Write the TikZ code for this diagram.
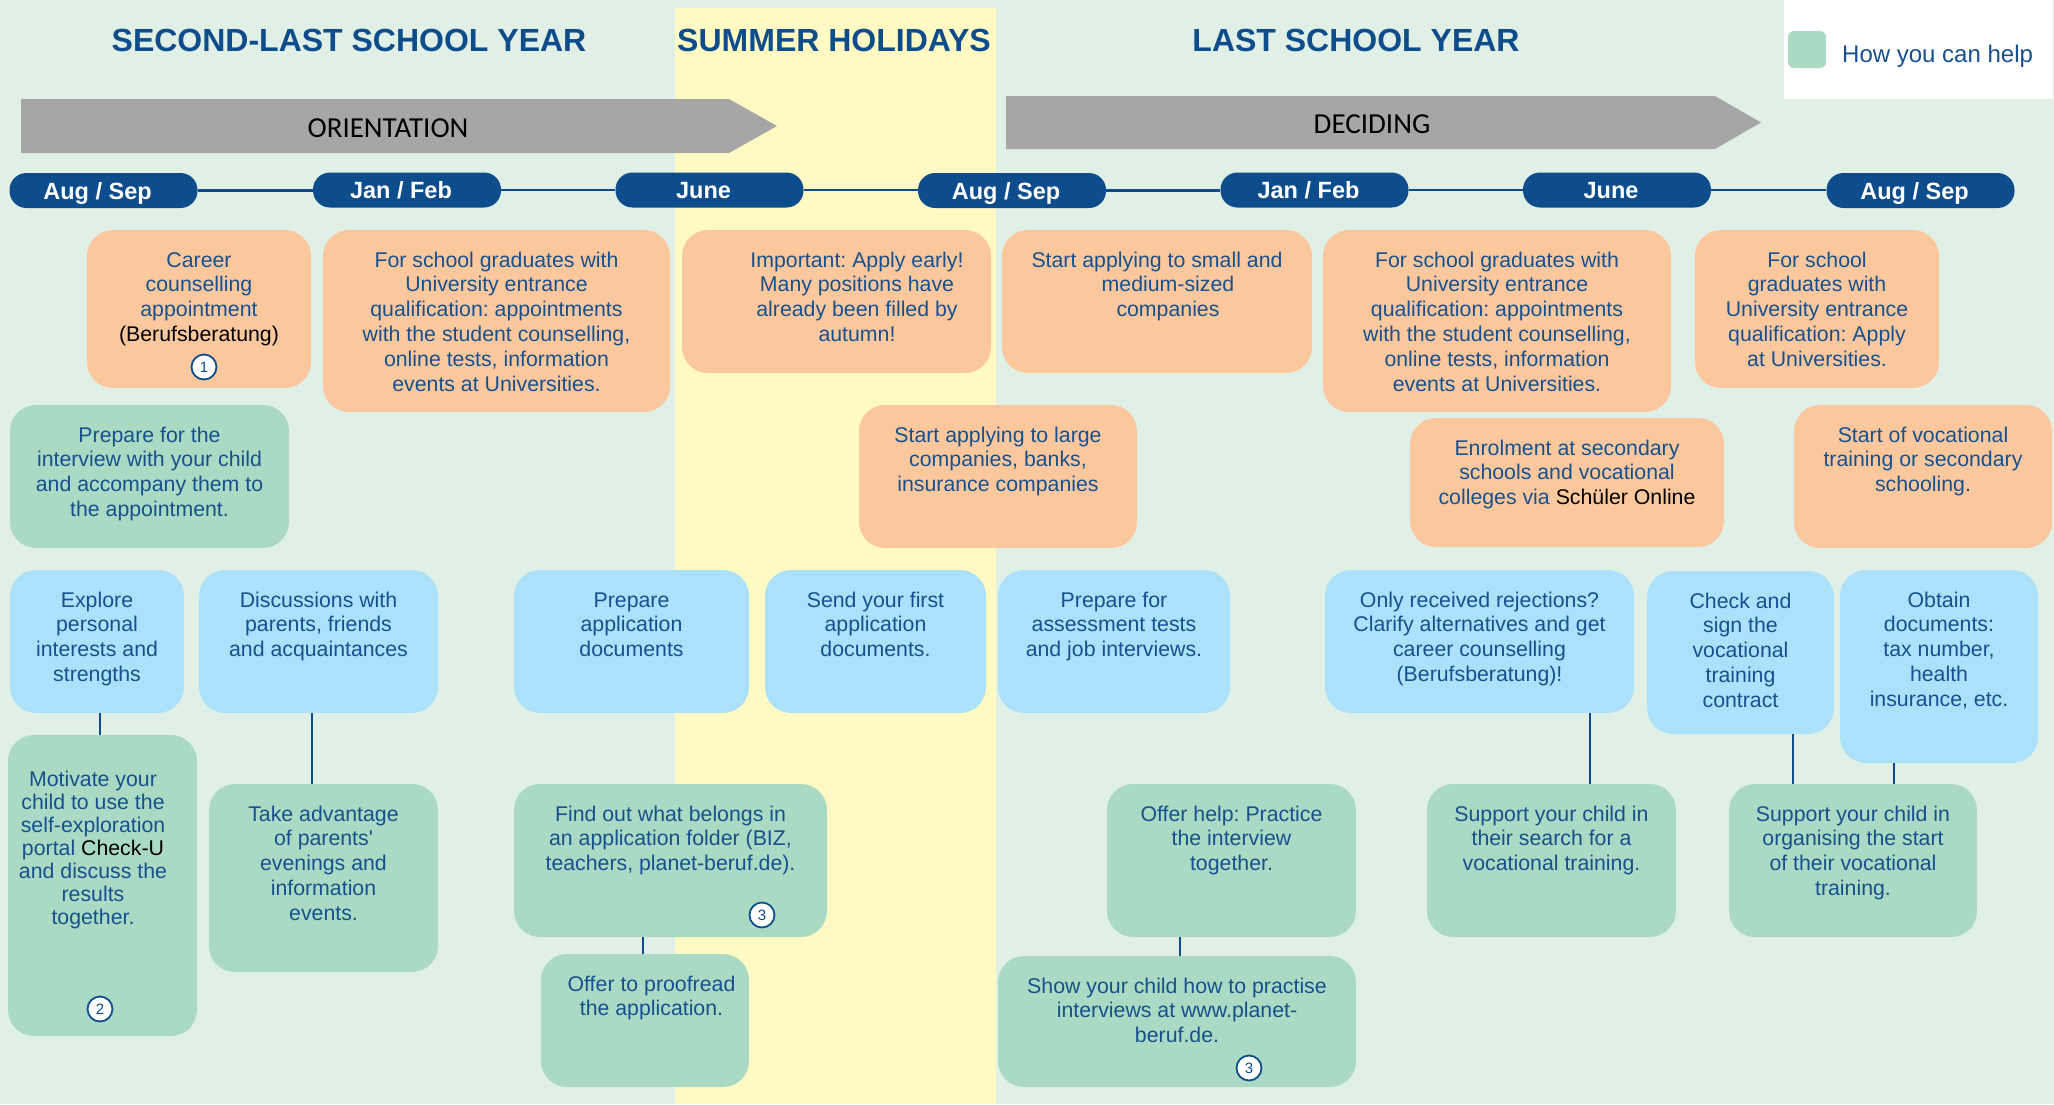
\documentclass[tikz,border=0pt]{standalone}
\usepackage{fontspec}
\setmainfont{Liberation Sans}
\newfontfamily\calibfont{Carlito}
\frenchspacing
\definecolor{bgc}{HTML}{E1F0E6}
\definecolor{yel}{HTML}{FFF9C4}
\definecolor{org}{HTML}{FBC89E}
\definecolor{grn}{HTML}{AADAC3}
\definecolor{blu}{HTML}{ABE1FA}
\definecolor{navy}{HTML}{0D4D8C}
\definecolor{txt}{HTML}{17508E}
\definecolor{arr}{HTML}{A6A6A6}
\newcommand{\bodyfont}{\fontsize{21.3}{24.8}\selectfont}
\newcommand{\tb}[4][37pt]{\begin{minipage}[c][#3][t]{#2}\frenchspacing\centering\rule{0pt}{#1}#4\end{minipage}}
\newcommand{\bk}[1]{{\color{black}#1}}
\tikzset{
 tbox/.style={rounded corners=26pt, inner sep=0pt, outer sep=0pt, text=txt, font=\bodyfont},
 obox/.style={tbox, fill=org},
 gbox/.style={tbox, fill=grn},
 bbox/.style={tbox, fill=blu},
 pill/.style={fill=navy, rounded corners=17pt, minimum width=188pt, minimum height=35pt, inner sep=0pt, text=white, font=\fontsize{23.5}{28}\selectfont\bfseries, text height=17pt, text depth=0pt, execute at begin node=\hspace*{-12pt}},
 ttl/.style={text=navy, font=\fontsize{32}{36}\selectfont\bfseries, inner sep=0pt},
 conn/.style={draw=navy, line width=1.8pt},
 numc/.style={circle, draw=navy, line width=1.8pt, fill=white, minimum size=25pt, inner sep=0pt, text=navy, font=\fontsize{15}{15}\selectfont},
 phase/.style={font=\calibfont\fontsize{29}{33}\selectfont, text=black, inner sep=0pt, anchor=base},
}
\begin{document}
\begin{tikzpicture}[x=1pt,y=-1pt]
\fill[bgc] (0,0) rectangle (2054,1104);
\useasboundingbox (0,0) rectangle (2054,1104);
\fill[yel] (675,8) rectangle (996,1104);
\fill[white] (1784,0) rectangle (2053,99);

% titles
\node[ttl] (t1) at (349,40) {SECOND-LAST SCHOOL YEAR};
\node[ttl] (t2) at (834,40) {SUMMER HOLIDAYS};
\node[ttl] (t3) at (1356,40) {LAST SCHOOL YEAR};

% legend
\node[fill=grn, rounded corners=6pt, minimum width=38pt, minimum height=37pt, inner sep=0pt] (legsw) at (1807,49.5) {};
\node[anchor=base west, inner sep=0pt, text=txt, font=\fontsize{24}{28}\selectfont] (legt) at (1842,62) {How you can help};

% phase arrows
\fill[arr] (21,99) -- (729,99) -- (777,126) -- (729,153) -- (21,153) -- cycle;
\node[phase] (orient) at (388,137) {ORIENTATION};
\fill[arr] (1006,96) -- (1715,96) -- (1761,122.5) -- (1715,149) -- (1006,149) -- cycle;
\node[phase] (decid) at (1372,133) {DECIDING};

% timeline
\node[pill] (p1) at (103.5,190.5) {Aug / Sep};
\node[pill] (p2) at (407,190) {Jan / Feb};
\node[pill] (p3) at (709.5,190) {June};
\node[pill] (p4) at (1012,190.5) {Aug / Sep};
\node[pill] (p5) at (1314.5,190) {Jan / Feb};
\node[pill] (p6) at (1617,190) {June};
\node[pill] (p7) at (1920.5,190.5) {Aug / Sep};
\foreach \a/\b in {p1/p2,p2/p3,p3/p4,p4/p5,p5/p6,p6/p7}
  \draw[navy, line width=2.5pt] (\a.east) -- (\b.west |- \a.east);

% orange row
\node[obox] (career) at (199,309) {\tb{224pt}{158pt}{Career\\counselling\\appointment\\\bk{(Berufsberatung)}}};
\node[obox] (sg1) at (496.5,321) {\tb{347pt}{182pt}{For school graduates with\\University entrance\\qualification: appointments\\with the student counselling,\\online tests, information\\events at Universities.}};
\node[obox] (imp) at (836.5,301.5) {\tb{309pt}{143pt}{\leftskip=41pt plus 1fil\relax Important: Apply early!\\Many positions have\\already been filled by\\autumn!}};
\node[obox] (small) at (1157,301.5) {\tb{310pt}{143pt}{Start applying to small and\\\hspace*{22pt}medium-sized\\\hspace*{22pt}companies}};
\node[obox] (sg2) at (1497,321) {\tb{348pt}{182pt}{For school graduates with\\University entrance\\qualification: appointments\\with the student counselling,\\online tests, information\\events at Universities.}};
\node[obox] (sg3) at (1817,309) {\tb{244pt}{158pt}{For school\\graduates with\\University entrance\\qualification: Apply\\at Universities.}};

% second row
\node[gbox] (prepint) at (149.5,476.5) {\tb{279pt}{143pt}{Prepare for the\\interview with your child\\and accompany them to\\the appointment.}};
\node[obox] (large) at (998,476.5) {\tb{278pt}{143pt}{Start applying to large\\companies, banks,\\insurance companies}};
\node[obox] (enrol) at (1567,482.5) {\tb{314pt}{129pt}{Enrolment at secondary\\schools and vocational\\colleges via \bk{Schüler Online}}};
\node[obox] (startvoc) at (1923,476.5) {\tb{258pt}{143pt}{Start of vocational\\training or secondary\\schooling.}};

% blue row
\node[bbox] (explore) at (97,641.5) {\tb{174pt}{143pt}{Explore\\personal\\interests and\\strengths}};
\node[bbox] (discuss) at (318.5,641.5) {\tb{239pt}{143pt}{Discussions with\\parents, friends\\and acquaintances}};
\node[bbox] (prepdoc) at (631.5,641.5) {\tb{235pt}{143pt}{Prepare\\application\\documents}};
\node[bbox] (send) at (875.5,641.5) {\tb{221pt}{143pt}{Send your first\\application\\documents.}};
\node[bbox] (assess) at (1114,641.5) {\tb{232pt}{143pt}{Prepare for\\assessment tests\\and job interviews.}};
\node[bbox] (reject) at (1479.5,641.5) {\tb{309pt}{143pt}{Only received rejections?\\Clarify alternatives and get\\career counselling\\(Berufsberatung)!}};
\node[bbox] (check) at (1740.5,652.5) {\tb{187pt}{163pt}{Check and\\sign the\\vocational\\training\\contract}};
\node[bbox] (obtain) at (1939,666.5) {\tb{198pt}{193pt}{Obtain\\documents:\\tax number,\\health\\insurance, etc.}};

% green lower row
\node[gbox] (motiv) at (102.5,885.5) {\tb[51pt]{189pt}{301pt}{\fontsize{21.3}{23}\selectfont\rightskip=19pt plus 1fil\relax Motivate your\\child to use the\\self-exploration\\portal \bk{Check-U}\\and discuss the\\results\\together.}};
\node[gbox] (takeadv) at (323.5,878) {\tb{229pt}{188pt}{Take advantage\\of parents\textquotesingle\\evenings and\\information\\events.}};
\node[gbox] (findout) at (670.5,860.5) {\tb{313pt}{153pt}{Find out what belongs in\\an application folder (BIZ,\\teachers, planet-beruf.de).}};
\node[gbox] (proof) at (645,1020.5) {\tb{208pt}{133pt}{\leftskip=13pt plus 1fil\relax Offer to proofread\\the application.}};
\node[gbox] (offerhelp) at (1231.5,860.5) {\tb{249pt}{153pt}{Offer help: Practice\\the interview\\together.}};
\node[gbox] (show) at (1177,1021.5) {\tb{358pt}{131pt}{Show your child how to practise\\interviews at www.planet-\\beruf.de.}};
\node[gbox] (search) at (1551.5,860.5) {\tb{249pt}{153pt}{Support your child in\\their search for a\\vocational training.}};
\node[gbox] (organise) at (1853,860.5) {\tb{248pt}{153pt}{Support your child in\\organising the start\\of their vocational\\training.}};

% number circles
\node[numc] (n1) at (204,367) {1};
\node[numc] (n2) at (100,1009) {2};
\node[numc] (n3a) at (762,915) {3};
\node[numc] (n3b) at (1249,1068) {3};

% connectors
\draw[conn] ([xshift=3pt]explore.south) -- ([xshift=-2.5pt]motiv.north);
\draw[conn] ([xshift=-6.5pt]discuss.south) -- ([xshift=-11.5pt]takeadv.north);
\draw[conn] ([xshift=110.5pt]reject.south) -- ([xshift=38.5pt]search.north);
\draw[conn] ([xshift=52.5pt]check.south) -- ([xshift=-60pt]organise.north);
\draw[conn] ([xshift=-45pt]obtain.south) -- ([xshift=41pt]organise.north);
\draw[conn] ([xshift=-27.5pt]findout.south) -- ([xshift=-2pt]proof.north);
\draw[conn] ([xshift=-51.5pt]offerhelp.south) -- ([xshift=3pt]show.north);
\end{tikzpicture}
\end{document}
